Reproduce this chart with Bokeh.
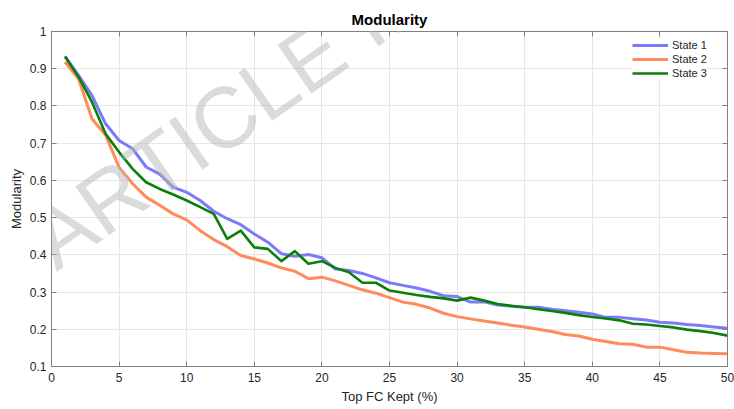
from bokeh.plotting import figure
from bokeh.models import (Range1d, LinearAxis, FixedTicker, Label, Legend, LegendItem,
                          CustomJSTickFormatter)
from bokeh.embed import file_html
from bokeh.resources import INLINE

# ---------------- data ----------------
top_fc_kept = list(range(1, 51))

state1 = [0.933, 0.882, 0.828, 0.752, 0.707, 0.685, 0.636, 0.617, 0.582, 0.568,
          0.546, 0.517, 0.497, 0.481, 0.456, 0.434, 0.403, 0.396, 0.401, 0.392,
          0.362, 0.358, 0.350, 0.338, 0.325, 0.318, 0.311, 0.302, 0.290, 0.288,
          0.273, 0.274, 0.265, 0.262, 0.259, 0.259, 0.254, 0.250, 0.246, 0.241,
          0.232, 0.232, 0.228, 0.225, 0.219, 0.217, 0.213, 0.210, 0.206, 0.203]

state2 = [0.918, 0.873, 0.765, 0.722, 0.635, 0.591, 0.555, 0.533, 0.510, 0.494,
          0.465, 0.441, 0.422, 0.398, 0.389, 0.378, 0.365, 0.356, 0.336, 0.340,
          0.330, 0.318, 0.306, 0.297, 0.285, 0.273, 0.267, 0.257, 0.243, 0.234,
          0.228, 0.222, 0.217, 0.211, 0.206, 0.200, 0.194, 0.186, 0.182, 0.173,
          0.167, 0.161, 0.160, 0.152, 0.152, 0.145, 0.138, 0.136, 0.135, 0.134]

state3 = [0.933, 0.878, 0.810, 0.725, 0.676, 0.631, 0.595, 0.577, 0.562, 0.546,
          0.528, 0.510, 0.443, 0.465, 0.420, 0.416, 0.383, 0.410, 0.376, 0.383,
          0.365, 0.353, 0.325, 0.325, 0.304, 0.298, 0.292, 0.287, 0.283, 0.277,
          0.285, 0.277, 0.268, 0.263, 0.259, 0.254, 0.249, 0.244, 0.238, 0.233,
          0.229, 0.224, 0.215, 0.213, 0.209, 0.205, 0.199, 0.195, 0.190, 0.183]

series_names = ["State 1", "State 2", "State 3"]
x_ticks = [0, 5, 10, 15, 20, 25, 30, 35, 40, 45, 50]
y_ticks = [0.1, 0.2, 0.3, 0.4, 0.5, 0.6, 0.7, 0.8, 0.9, 1]
y_tick_labels = ["0.1", "0.2", "0.3", "0.4", "0.5", "0.6", "0.7", "0.8", "0.9", "1"]

# ---------------- figure ----------------
FONT = "Liberation Sans"
AX = "#808080"
TXT = "#262626"

p = figure(width=734, height=409, output_backend="svg", toolbar_location=None,
           x_range=Range1d(0, 50), y_range=Range1d(0.1, 1),
           min_border_left=51, min_border_right=7, min_border_top=31,
           min_border_bottom=43, background_fill_color="white",
           border_fill_color="white")

p.title.text = "Modularity"
p.title.align = "center"
p.title.text_font = FONT
p.title.text_font_size = "15px"
p.title.text_font_style = "bold"
p.title.text_color = "#000000"
p.title.standoff = 8
p.title.offset = 0

p.outline_line_color = AX

for ax in p.xaxis:
    ax.ticker = FixedTicker(ticks=x_ticks)
for ax in p.yaxis:
    ax.ticker = FixedTicker(ticks=y_ticks)
    ax.major_label_overrides = {t: l for t, l in zip(y_ticks, y_tick_labels)}

p.xaxis.axis_label = "Top FC Kept (%)"
p.yaxis.axis_label = "Modularity"

for ax in list(p.xaxis) + list(p.yaxis):
    ax.axis_line_color = AX
    ax.major_tick_line_color = AX
    ax.major_tick_in = 5
    ax.major_tick_out = 0
    ax.minor_tick_line_color = None
    ax.major_label_text_font = FONT
    ax.major_label_text_font_size = "12px"
    ax.major_label_text_color = TXT
    ax.axis_label_text_font = FONT
    ax.axis_label_text_font_size = "13px"
    ax.axis_label_text_font_style = "normal"
    ax.axis_label_text_color = TXT

p.xaxis.major_label_standoff = 6
p.xaxis.axis_label_standoff = 4
p.yaxis.major_label_standoff = 5
p.yaxis.axis_label_standoff = 3

# box ticks on top and right (no labels)
blank = CustomJSTickFormatter(code="return ''")
top_ax = LinearAxis(ticker=FixedTicker(ticks=x_ticks), formatter=blank,
                    major_label_standoff=0, axis_line_color=AX, major_tick_line_color=AX,
                    major_tick_in=5, major_tick_out=0, minor_tick_line_color=None)
right_ax = LinearAxis(ticker=FixedTicker(ticks=y_ticks), formatter=blank,
                      major_label_standoff=0, axis_line_color=AX, major_tick_line_color=AX,
                      major_tick_in=5, major_tick_out=0, minor_tick_line_color=None)
p.add_layout(top_ax, "above")
p.add_layout(right_ax, "right")

p.xgrid.grid_line_color = "#e6e6e6"
p.ygrid.grid_line_color = "#e6e6e6"
p.xgrid.grid_line_width = 1
p.ygrid.grid_line_width = 1

colors = ["#7b7bfa", "#ff8a5c", "#0a800a"]
widths = [3, 3, 2.6]
renderers = []
for ys, c, w in zip([state1, state2, state3], colors, widths):
    r = p.line(top_fc_kept, ys, line_color=c, line_width=w, line_join="round")
    renderers.append(r)

legend = Legend(items=[LegendItem(label=n, renderers=[r]) for n, r in zip(series_names, renderers)],
                location=(581, 286), border_line_color=None,
                background_fill_color="white", background_fill_alpha=1.0,
                label_text_font=FONT, label_text_font_size="11px", label_text_color=TXT,
                glyph_width=36, glyph_height=14, label_height=14, label_standoff=4,
                spacing=0, padding=0, margin=0)
p.add_layout(legend)

# watermark
wm = Label(x=-0.9, y=0.42, x_units="data", y_units="data", text="ARTICLE IN PRESS",
           angle=35, angle_units="deg", text_font=FONT, text_font_size="86px",
           text_color="#b8b8b8", text_alpha=0.5, text_baseline="alphabetic",
           text_align="left")
p.add_layout(wm)

open("out.html", "w").write(file_html(p, INLINE))
